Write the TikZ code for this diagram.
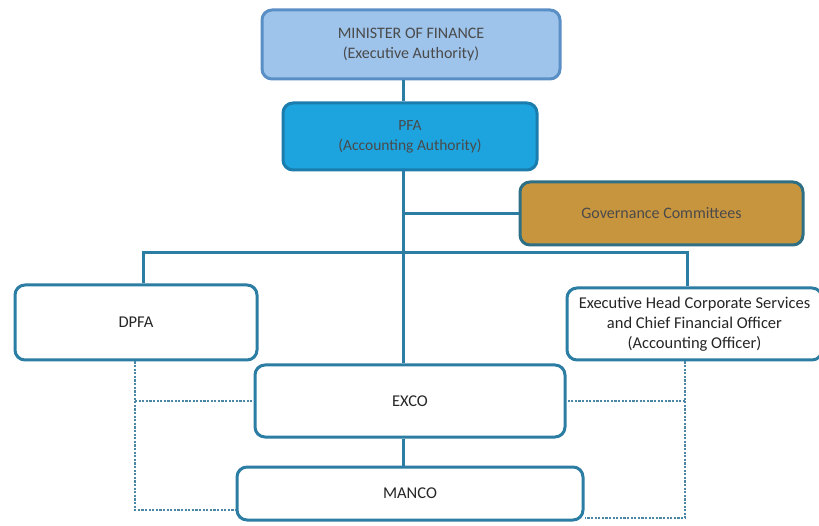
\documentclass[tikz,border=0pt]{standalone}
\usepackage{fontspec}
\setmainfont{Carlito}
\definecolor{lineblue}{HTML}{2C7DA3}
\definecolor{minfill}{HTML}{9EC4EC}
\definecolor{minedge}{HTML}{5A8FC6}
\definecolor{pfafill}{HTML}{1DA3DD}
\definecolor{pfaedge}{HTML}{1B7DAE}
\definecolor{govfill}{HTML}{C8953F}
\definecolor{govedge}{HTML}{2E6F84}
\definecolor{dotblue}{HTML}{4A87A6}
\definecolor{greytext}{HTML}{4A4A4A}
\begin{document}
\begin{tikzpicture}[x=1pt,y=-1pt]
                  \tikzset{
                      unit/.style={draw=lineblue,line width=3pt,rounded corners=10pt,fill=white,
                              align=center,inner sep=2pt,font=\fontsize{16.5}{20}\selectfont,text=black!85},
                      minbox/.style={unit,fill=minfill,draw=minedge,text=greytext,font=\fontsize{16}{20}\selectfont},
                      pfabox/.style={unit,fill=pfafill,draw=pfaedge,text=greytext,font=\fontsize{15.5}{20}\selectfont},
                      govbox/.style={unit,fill=govfill,draw=govedge,text=greytext,font=\fontsize{16}{19}\selectfont},
                      link/.style={draw=lineblue,line width=3pt},
                      dotlink/.style={draw=dotblue,line width=2.8pt,dash pattern=on 2.2pt off 1.4pt}
                  }
                  \useasboundingbox (0,0) rectangle (819,526);
                  % boxes
                  \node[minbox,minimum width=298pt,minimum height=69pt] (minister) at (411,44.5) {MINISTER OF FINANCE\\(Executive Authority)};
                  \node[pfabox,minimum width=254pt,minimum height=67pt] (pfa) at (410,136.5) {PFA\\(Accounting Authority)};
                  \node[govbox,minimum width=283pt,minimum height=63pt] (gov) at (661.5,213.5) {Governance Committees};
                  \node[unit,minimum width=242pt,minimum height=75pt] (dpfa) at (136,322.5) {DPFA};
                  \node[unit,minimum width=255pt,minimum height=72pt] (ehcs) at (694.5,324) {Executive Head Corporate Services\\and Chief Financial Officer\\(Accounting Officer)};
                  \node[unit,minimum width=310pt,minimum height=72pt] (exco) at (410,401) {EXCO};
                  \node[unit,minimum width=346pt,minimum height=53pt] (manco) at (410,493.5) {MANCO};
                  % solid lines
                  \coordinate (bus) at (403,253);
                  \coordinate (busL) at (143,253);
                  \coordinate (busR) at (687,253);
                  \draw[link] (minister.south -| bus)--(pfa.north -| bus);
                  \draw[link] (pfa.south -| bus)--(exco.north -| bus);
                  \draw[link] (gov.west)--(gov.west -| bus);
                  \draw[link] (busL |- dpfa.north)--(busL)--(busR)--(busR |- ehcs.north);
                  \draw[link] (exco.south -| bus)--(manco.north -| bus);
                  % dotted lines
                  \coordinate (dl) at (135,510);
                  \coordinate (dr) at (685,518);
                  \draw[dotlink] (dl |- dpfa.south)--(dl)--(dl -| manco.west);
                  \draw[dotlink] (dl |- exco.west)--(exco.west);
                  \draw[dotlink] (dr |- ehcs.south)--(dr)--(dr -| manco.east);
                  \draw[dotlink] (dr |- exco.east)--(exco.east);
              \end{tikzpicture}
\end{document}
